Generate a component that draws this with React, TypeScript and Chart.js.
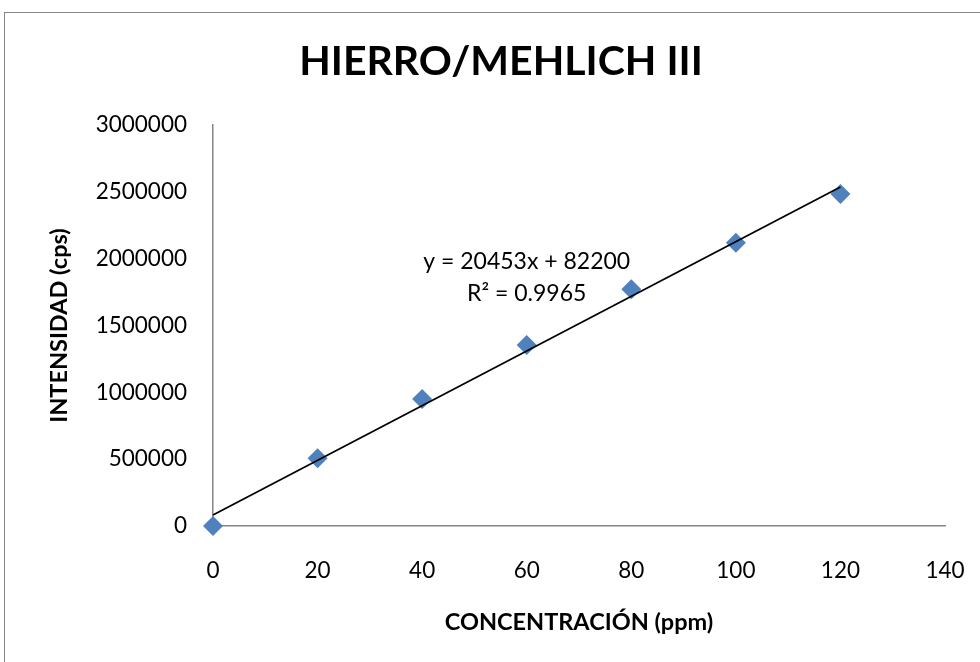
import { useEffect, useRef } from "react";
import { Chart, registerables } from "chart.js";

Chart.register(...registerables);

const concentrations = [0, 20, 40, 60, 80, 100, 120];
const intensities = [0, 506000, 950000, 1354000, 1771000, 2120000, 2484000];
const trendSlope = 20453;
const trendIntercept = 82200;
const trendRange = [0, 120];
const equationLines = ["y = 20453x + 82200", "R² = 0.9965"];
const equationAnchor = { x: 60, y: 1980000 };
const chartTitle = "HIERRO/MEHLICH III";
const xAxisTitle = "CONCENTRACIÓN (ppm)";
const yAxisTitle = "INTENSIDAD (cps)";
const xRange = { min: 0, max: 140, step: 20 };
const yRange = { min: 0, max: 3000000, step: 500000 };

const FONT = "Lato";
const AXIS_GRAY = "#868686";
const MARKER_BLUE = "#4F81BD";

const labelsPlugin = {
  id: "textLabels",
  afterDatasetsDraw(chart: any) {
    const { ctx, scales } = chart;
    const x = scales.x.getPixelForValue(equationAnchor.x);
    const y = scales.y.getPixelForValue(equationAnchor.y);
    ctx.save();
    ctx.font = `23px ${FONT}`;
    ctx.fillStyle = "#000";
    ctx.textAlign = "center";
    ctx.textBaseline = "middle";
    equationLines.forEach((line, i) => ctx.fillText(line, x, y + i * 32));
    ctx.font = `bold 41px ${FONT}`;
    ctx.fillText(chartTitle, 501, 61.5);
    ctx.restore();
  },
};

export default function App() {
  const canvasRef = useRef<HTMLCanvasElement | null>(null);

  useEffect(() => {
    if (!canvasRef.current) return;
    const points = concentrations.map((c, i) => ({ x: c, y: intensities[i] }));
    const trend = trendRange.map((x) => ({ x, y: trendSlope * x + trendIntercept }));

    const chart = new Chart(canvasRef.current, {
      type: "scatter",
      data: {
        datasets: [
          {
            label: "Lineal",
            data: trend,
            showLine: true,
            borderColor: "#000",
            borderWidth: 1.8,
            pointRadius: 0,
            fill: false,
            clip: false,
            order: 0,
          } as any,
          {
            label: "Intensidad",
            data: points,
            pointStyle: "rectRot",
            pointRadius: 10,
            backgroundColor: MARKER_BLUE,
            borderColor: MARKER_BLUE,
            borderWidth: 0,
            showLine: false,
            clip: false,
            order: 1,
          } as any,
        ],
      },
      options: {
        animation: false,
        responsive: false,
        layout: { padding: { top: 125, left: 0, right: 35, bottom: 0 } },
        plugins: {
          legend: { display: false },
          tooltip: { enabled: false },
          title: { display: false },
        },
        scales: {
          x: {
            type: "linear",
            min: xRange.min,
            max: xRange.max,
            grid: { display: false, drawTicks: false },
            border: { display: true, color: AXIS_GRAY, width: 1.5 },
            ticks: {
              stepSize: xRange.step,
              color: "#000",
              padding: 31.5,
              font: { family: FONT, size: 22.5 },
            },
            title: {
              display: true,
              text: xAxisTitle,
              color: "#000",
              font: { family: FONT, size: 23.5, weight: "bold", lineHeight: 1.2 },
              padding: { top: 0, bottom: 25 },
            },
            afterFit: (s: any) => {
              s.height = 136;
              s.paddingLeft = 0;
              s.paddingRight = 0;
            },
          },
          y: {
            type: "linear",
            min: yRange.min,
            max: yRange.max,
            grid: { display: false, drawTicks: false },
            border: { display: true, color: AXIS_GRAY, width: 1.5 },
            ticks: {
              stepSize: yRange.step,
              color: "#000",
              padding: 26,
              font: { family: FONT, size: 22.5 },
              callback: (v: any) => String(v),
            },
            title: {
              display: true,
              text: yAxisTitle,
              color: "#000",
              font: { family: FONT, size: 23.5, weight: "bold", lineHeight: 1.2 },
              padding: { top: 45.5, bottom: 0 },
            },
            afterFit: (s: any) => {
              s.width = 213;
            },
          },
        },
      },
      plugins: [labelsPlugin],
    });
    return () => chart.destroy();
  }, []);

  return (
    <div
      style={{
        position: "absolute",
        left: 0,
        top: 0,
        width: 980,
        height: 662,
        overflow: "hidden",
        background: "#fff",
      }}
    >
      <div
        style={{
          position: "absolute",
          left: 4,
          top: 12,
          width: 1200,
          height: 1000,
          border: `1px solid ${AXIS_GRAY}`,
        }}
      />
      <canvas
        ref={canvasRef}
        width={980}
        height={662}
        style={{ position: "absolute", left: 0, top: 0, display: "block" }}
      />
    </div>
  );
}
